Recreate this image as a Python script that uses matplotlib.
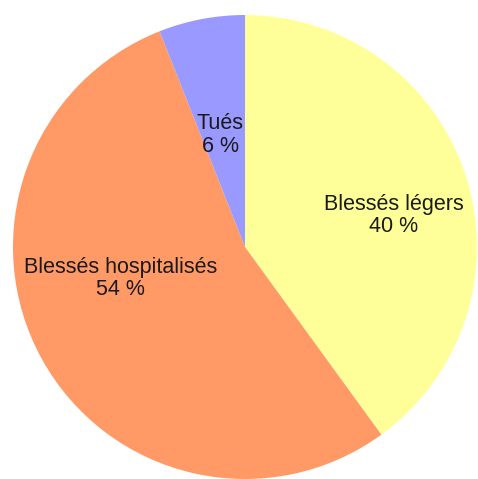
import matplotlib.pyplot as plt

categories = ["Blessés légers", "Blessés hospitalisés", "Tués"]
values = [40, 54, 6]
pct_labels = ["40 %", "54 %", "6 %"]
colors = ["#FFFF99", "#FF9966", "#9999FF"]

# label centres (data units, radius = 1)
label_pos = [(0.64, 0.135), (-0.535, -0.135), (-0.107, 0.482)]

plt.rcParams["font.family"] = ["Liberation Sans", "DejaVu Sans"]

W, H = 478, 479
cx, cy, R = 245, 247, 232

fig = plt.figure(figsize=(W / 100, H / 100), dpi=100)
ax = fig.add_axes([0, 0, 1, 1])
ax.pie(values, colors=colors, startangle=90, counterclock=False,
       radius=1, wedgeprops=dict(linewidth=0))

for name, pct, (x, y) in zip(categories, pct_labels, label_pos):
    ax.text(x, y, f"{name}\n{pct}", ha="center", va="center",
            fontsize=15.5, color="#1a1a1a", linespacing=1.1)

ax.set_xlim(-cx / R, (W - cx) / R)
ax.set_ylim(-(H - cy) / R, cy / R)
ax.set_aspect("equal")
ax.axis("off")

fig.savefig("out.png", dpi=100)
